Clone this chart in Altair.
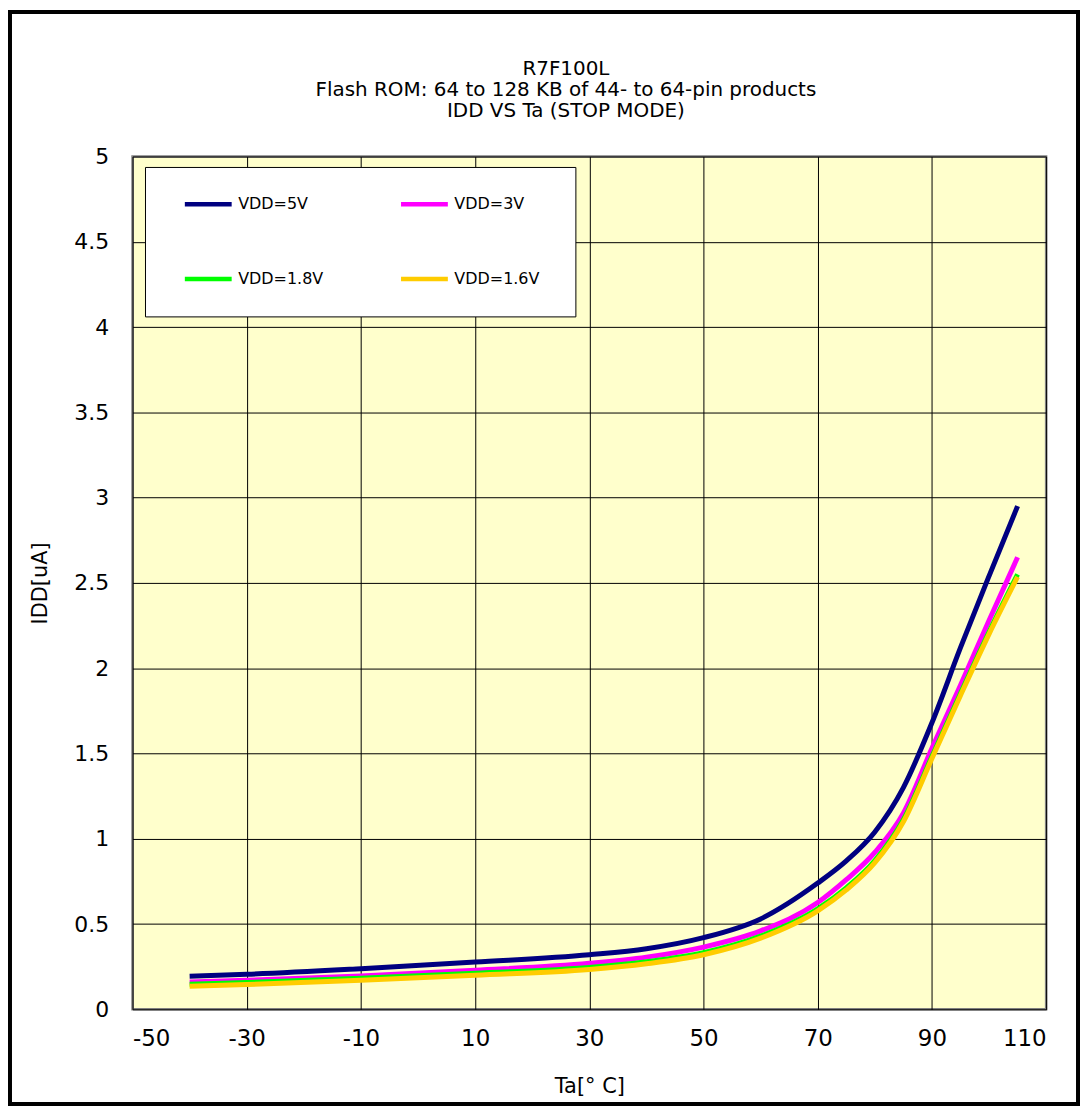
import altair as alt
import pandas as pd

# ---- data ----
temps = [-40, -30, -10, 10, 30, 40, 50, 60, 70, 75, 80, 85, 90, 95, 100, 105]
idd_5v = [0.194, 0.205, 0.238, 0.277, 0.32, 0.355, 0.42, 0.53, 0.74, 0.87, 1.04, 1.30, 1.68, 2.12, 2.54, 2.95]
idd_3v = [0.16, 0.17, 0.196, 0.229, 0.27, 0.306, 0.365, 0.46, 0.626, 0.76, 0.92, 1.15, 1.53, 1.9, 2.28, 2.65]
idd_1v8 = [0.147, 0.157, 0.182, 0.212, 0.245, 0.279, 0.332, 0.429, 0.589, 0.712, 0.872, 1.112, 1.482, 1.852, 2.212, 2.55]
idd_1v6 = [0.135, 0.145, 0.17, 0.2, 0.233, 0.267, 0.32, 0.417, 0.577, 0.70, 0.86, 1.10, 1.47, 1.84, 2.2, 2.535]

series = ["VDD=5V", "VDD=3V", "VDD=1.8V", "VDD=1.6V"]
colors = ["#000080", "#FF00FF", "#00FF00", "#FFCC00"]
x_ticks = [-50, -30, -10, 10, 30, 50, 70, 90, 110]
y_ticks = [0, 0.5, 1, 1.5, 2, 2.5, 3, 3.5, 4, 4.5, 5]
title_lines = ["R7F100L", "Flash ROM: 64 to 128 KB of 44- to 64-pin products", "IDD VS Ta (STOP MODE)"]

rows = []
for name, vals in zip(series, [idd_5v, idd_3v, idd_1v8, idd_1v6]):
    for t, v in zip(temps, vals):
        rows.append({"Ta": t, "IDD": v, "series": name})
df = pd.DataFrame(rows)

FONT = "DejaVu Sans"

# white legend panel (decoration behind the legend entries)
legend_box = alt.Chart(alt.Data(values=[{}])).mark_rect(
    fill="white", stroke="black", strokeWidth=1
).encode(
    x=alt.value(13), x2=alt.value(445), y=alt.value(11), y2=alt.value(161)
)

lines = alt.Chart(df).mark_line(strokeWidth=5, interpolate="monotone").encode(
    x=alt.X("Ta:Q",
            scale=alt.Scale(domain=[-50, 110], nice=False, zero=False),
            axis=alt.Axis(values=x_ticks, title="Ta[°  C]", grid=True, gridColor="black",
                          gridWidth=1, domain=False, ticks=False, labelFont=FONT,
                          labelFontSize=23, labelColor="black", labelPadding=18,
                          labelExpr="datum.value + ''",
                          titleFont=FONT, titleFontSize=21, titleFontWeight="normal",
                          titleColor="black", titlePadding=25)),
    y=alt.Y("IDD:Q",
            scale=alt.Scale(domain=[0, 5], nice=False),
            axis=alt.Axis(values=y_ticks, title="IDD[uA]", grid=True, gridColor="black",
                          gridWidth=1, domain=False, ticks=False, labelFont=FONT,
                          labelFontSize=22, labelColor="black", labelPadding=24,
                          labelExpr="datum.value + ''",
                          titleFont=FONT, titleFontSize=21, titleFontWeight="normal",
                          titleColor="black", titlePadding=23)),
    color=alt.Color("series:N",
                    scale=alt.Scale(domain=series, range=colors),
                    sort=series,
                    legend=alt.Legend(title=None, orient="none", legendX=50, legendY=22,
                                      direction="horizontal",
                                      columns=2, symbolType="stroke", symbolSize=2209,
                                      symbolStrokeWidth=4.5, labelFont=FONT,
                                      labelFontSize=16, labelColor="black", labelOffset=4,
                                      padding=0, rowPadding=40, columnPadding=68)),
)

title = alt.Chart(alt.Data(values=[{}])).mark_text(
    text=title_lines, font=FONT, fontSize=20, lineHeight=21, align="center",
    baseline="top", color="black"
).encode(x=alt.value(435), y=alt.value(-98))

frame = alt.Chart(alt.Data(values=[{}])).mark_rect(
    fillOpacity=0, stroke="black", strokeWidth=4
).encode(
    x=alt.value(-123), x2=alt.value(949), y=alt.value(-145), y2=alt.value(951)
)

chart = alt.layer(legend_box, lines, title, frame).properties(
    width=917,
    height=856,
    padding={"left": 125, "top": 147, "right": 34, "bottom": 97},
    autosize=alt.AutoSizeParams(type="none"),
    background="white",
).configure_view(
    fill="#FFFFCC", stroke="#808080", strokeWidth=2.5
)

chart.save("out.html", embed_options={"renderer": "svg", "actions": False})
